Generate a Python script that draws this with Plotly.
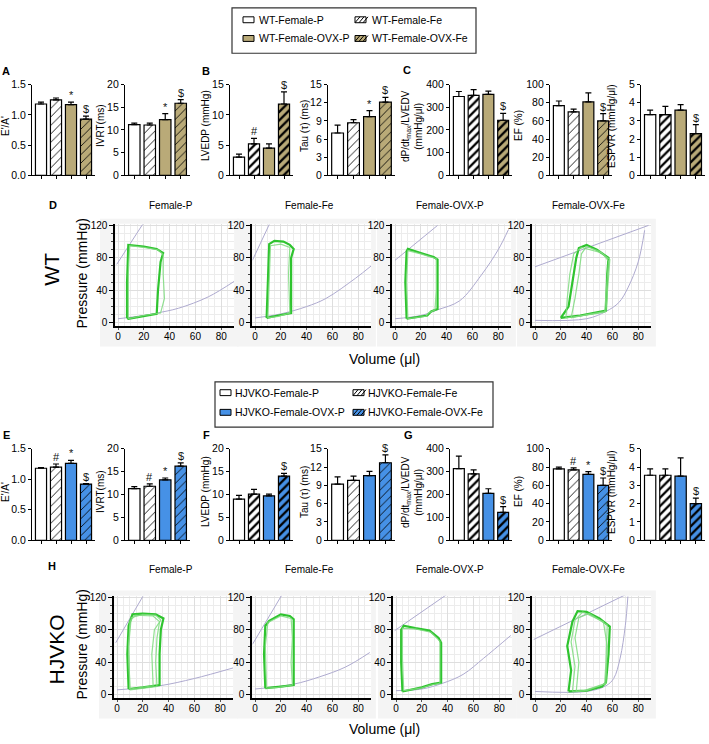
import plotly.graph_objects as go

W, H = 709, 744
FONT = "Arial, Liberation Sans, Helvetica, sans-serif"

# ---------------- DATA ----------------
wt_groups = ["WT-Female-P", "WT-Female-Fe", "WT-Female-OVX-P", "WT-Female-OVX-Fe"]
ko_groups = ["HJVKO-Female-P", "HJVKO-Female-Fe", "HJVKO-Female-OVX-P", "HJVKO-Female-OVX-Fe"]

metric_titles = ["E'/A'", "IVRT(ms)", "LVEDP (mmHg)", "Tau (τ) (ms)",
                 "dP/dt<sub>max</sub>/LVEDV<br>(mmHg/μl)", "EF (%)", "ESPVR (mmHg/μl)"]
wt_ymax = [1.5, 20, 15, 15, 400, 100, 5]
ko_ymax = [1.5, 20, 20, 15, 400, 100, 5]
ytick_step = [0.5, 5, 5, 3, 100, 20, 1]

wt_ea = [1.18, 1.25, 1.17, 0.93];   wt_ea_err = [0.03, 0.03, 0.04, 0.05];  wt_ea_sig = ["", "", "*", "$"]
wt_ivrt = [11.2, 11.1, 12.3, 15.9]; wt_ivrt_err = [0.3, 0.4, 1.3, 0.8];    wt_ivrt_sig = ["", "", "*", "$"]
wt_lvedp = [3.0, 5.2, 4.5, 11.8];   wt_lvedp_err = [0.5, 0.9, 0.7, 2.0];   wt_lvedp_sig = ["", "#", "", "$"]
wt_tau = [7.0, 8.7, 9.7, 12.1];     wt_tau_err = [1.3, 0.5, 1.0, 0.8];     wt_tau_sig = ["", "", "*", "$"]
wt_dpdt = [348, 353, 357, 243];     wt_dpdt_err = [22, 25, 15, 30];        wt_dpdt_sig = ["", "", "", "$"]
wt_ef = [77, 70, 81, 60];           wt_ef_err = [5, 3, 10, 8];             wt_ef_sig = ["", "", "", "$"]
wt_espvr = [3.35, 3.35, 3.6, 2.3];  wt_espvr_err = [0.25, 0.45, 0.3, 0.5]; wt_espvr_sig = ["", "", "", "$"]

ko_ea = [1.18, 1.20, 1.26, 0.92];   ko_ea_err = [0.01, 0.05, 0.05, 0.01];  ko_ea_sig = ["", "#", "*", "$"]
ko_ivrt = [11.3, 11.8, 13.2, 16.2]; ko_ivrt_err = [0.4, 0.5, 0.4, 0.7];    ko_ivrt_sig = ["", "#", "*", "$"]
ko_lvedp = [9.0, 10.1, 9.7, 14.0];  ko_lvedp_err = [0.8, 1.0, 0.4, 0.6];   ko_lvedp_sig = ["", "", "", "$"]
ko_tau = [9.2, 9.8, 10.6, 12.7];    ko_tau_err = [1.2, 0.7, 0.7, 1.3];     ko_tau_sig = ["", "", "", "$"]
ko_dpdt = [313, 290, 205, 122];     ko_dpdt_err = [55, 18, 20, 25];        ko_dpdt_sig = ["", "", "", "$"]
ko_ef = [78, 77, 72, 60];           ko_ef_err = [2, 2, 3, 8];              ko_ef_sig = ["", "#", "*", "$"]
ko_espvr = [3.55, 3.55, 3.5, 2.0];  ko_espvr_err = [0.35, 0.35, 1.0, 0.3]; ko_espvr_sig = ["", "", "", "$"]

heavy_hatch = [False, False, True, False, True, False, True]

pv_titles = ["Female-P", "Female-Fe", "Female-OVX-P", "Female-OVX-Fe"]

# PV loops: (volume μl, pressure mmHg)
wt_p_loop = [(7, 6), (7, 50), (8, 96), (20, 94), (30, 91), (35, 86), (33, 75), (31, 40), (30, 11), (20, 8), (8, 5), (7, 6)]
wt_p_loop2 = [(8, 5), (8, 60), (9, 95), (20, 93), (31, 90), (35, 84), (35, 60), (36, 30), (33, 12), (20, 9), (8, 5)]
wt_p_espvr = [(-1, 72), (19, 121)]
wt_p_edpvr = [(0, 5), (20, 9), (30, 12), (47, 18), (70, 32), (90, 51)]

wt_fe_loop = [(9, 6), (10, 60), (11, 97), (15, 101), (22, 100), (27, 96), (30, 91), (28, 80), (28, 40), (28, 12), (18, 9), (9, 6)]
wt_fe_loop2 = [(10, 6), (11, 50), (12, 95), (20, 97), (27, 93), (26, 60), (27, 12), (18, 8), (10, 6)]
wt_fe_espvr = [(-2, 77), (11, 121)]
wt_fe_edpvr = [(0, 6), (20, 11), (40, 20), (55, 30), (78, 55), (90, 70)]

wt_ovxp_loop = [(9, 5), (8, 50), (9, 88), (10, 91), (20, 86), (30, 81), (33, 78), (33, 40), (33, 17), (28, 14), (25, 9), (9, 5)]
wt_ovxp_loop2 = [(10, 5), (9, 50), (10, 89), (20, 85), (32, 79), (32, 40), (31, 16), (26, 12), (24, 8), (10, 5)]
wt_ovxp_espvr = [(0, 77), (33, 120)]
wt_ovxp_edpvr = [(0, 5), (20, 9), (33, 16), (50, 27), (67, 59), (80, 90), (88, 115)]

wt_ovxfe_loop = [(20, 6), (26, 20), (29, 50), (32, 80), (34, 92), (40, 96), (48, 90), (57, 80), (56, 60), (55, 30), (55, 15), (45, 12), (35, 9), (20, 6)]
wt_ovxfe_loop2 = [(28, 6), (31, 30), (34, 60), (36, 85), (40, 94), (50, 88), (58, 78), (56, 40), (55, 14), (40, 10), (28, 6)]
wt_ovxfe_loop3 = [(24, 6), (25, 30), (27, 60), (30, 85), (36, 93), (52, 86), (57, 76), (55, 40), (54, 13), (38, 9), (24, 6)]
wt_ovxfe_espvr = [(0, 69), (88, 120)]
wt_ovxfe_edpvr = [(0, 3), (40, 5), (55, 14), (65, 25), (72, 43), (80, 75), (85, 114)]

ko_p_loop = [(9, 7), (8, 50), (9, 85), (12, 99), (20, 100), (30, 99), (36, 94), (34, 80), (33, 50), (33, 12), (20, 9), (9, 7)]
ko_p_loop2 = [(10, 7), (9, 60), (11, 95), (20, 99), (30, 98), (34, 92), (29, 80), (27, 50), (28, 11), (18, 9), (10, 7)]
ko_p_loop3 = [(10, 6), (9, 55), (10, 90), (14, 98), (28, 97), (33, 90), (31, 70), (30, 40), (31, 10), (20, 8), (10, 6)]
ko_p_espvr = [(-1, 64), (20, 121)]
ko_p_edpvr = [(0, 6), (33, 11), (60, 20), (90, 33)]

ko_fe_loop = [(8, 8), (7, 50), (8, 85), (11, 91), (20, 99), (27, 97), (30, 93), (30, 60), (30, 12), (20, 10), (8, 8)]
ko_fe_loop2 = [(9, 8), (8, 60), (10, 89), (20, 97), (28, 94), (29, 70), (28, 40), (29, 12), (18, 9), (9, 8)]
ko_fe_espvr = [(-2, 62), (20.5, 122)]
ko_fe_edpvr = [(0, 7), (30, 13), (50, 22), (70, 34), (89, 52)]

ko_ovxp_loop = [(5, 4), (4, 40), (4, 80), (6, 85), (15, 82), (26, 79), (33, 70), (35, 64), (35, 40), (35, 15), (28, 13), (20, 9), (5, 4)]
ko_ovxp_loop2 = [(6, 5), (5, 45), (5, 82), (15, 81), (27, 77), (34, 66), (34, 38), (34, 14), (27, 12), (19, 8), (6, 5)]
ko_ovxp_espvr = [(-1, 79), (39, 123)]
ko_ovxp_edpvr = [(0, 5), (20, 7), (36, 14), (52, 25), (68, 45), (89, 73)]

ko_ovxfe_loop = [(26, 4), (28, 30), (25, 60), (29, 90), (33, 103), (40, 102), (50, 94), (58, 84), (57, 50), (55, 15), (52, 10), (40, 5), (26, 4)]
ko_ovxfe_loop2 = [(32, 4), (34, 40), (31, 70), (34, 95), (42, 100), (56, 86), (55, 40), (54, 13), (40, 5), (32, 4)]
ko_ovxfe_loop3 = [(29, 4), (31, 35), (28, 65), (31, 92), (37, 102), (53, 90), (56, 60), (55, 14), (38, 5), (29, 4)]
ko_ovxfe_espvr = [(-1, 68), (70, 123)]
ko_ovxfe_edpvr = [(0, 4), (40, 4), (55, 11), (61, 20), (66, 45), (70, 85), (72, 121)]

wt_bar_data = [(wt_ea, wt_ea_err, wt_ea_sig), (wt_ivrt, wt_ivrt_err, wt_ivrt_sig),
               (wt_lvedp, wt_lvedp_err, wt_lvedp_sig), (wt_tau, wt_tau_err, wt_tau_sig),
               (wt_dpdt, wt_dpdt_err, wt_dpdt_sig), (wt_ef, wt_ef_err, wt_ef_sig),
               (wt_espvr, wt_espvr_err, wt_espvr_sig)]
ko_bar_data = [(ko_ea, ko_ea_err, ko_ea_sig), (ko_ivrt, ko_ivrt_err, ko_ivrt_sig),
               (ko_lvedp, ko_lvedp_err, ko_lvedp_sig), (ko_tau, ko_tau_err, ko_tau_sig),
               (ko_dpdt, ko_dpdt_err, ko_dpdt_sig), (ko_ef, ko_ef_err, ko_ef_sig),
               (ko_espvr, ko_espvr_err, ko_espvr_sig)]
wt_pv = [([wt_p_loop, wt_p_loop2], wt_p_espvr, wt_p_edpvr),
         ([wt_fe_loop, wt_fe_loop2], wt_fe_espvr, wt_fe_edpvr),
         ([wt_ovxp_loop, wt_ovxp_loop2], wt_ovxp_espvr, wt_ovxp_edpvr),
         ([wt_ovxfe_loop, wt_ovxfe_loop2, wt_ovxfe_loop3], wt_ovxfe_espvr, wt_ovxfe_edpvr)]
ko_pv = [([ko_p_loop, ko_p_loop2, ko_p_loop3], ko_p_espvr, ko_p_edpvr),
         ([ko_fe_loop, ko_fe_loop2], ko_fe_espvr, ko_fe_edpvr),
         ([ko_ovxp_loop, ko_ovxp_loop2], ko_ovxp_espvr, ko_ovxp_edpvr),
         ([ko_ovxfe_loop, ko_ovxfe_loop2, ko_ovxfe_loop3], ko_ovxfe_espvr, ko_ovxfe_edpvr)]

OLIVE = "#b9aa78"
BLUE = "#4691e6"

# ---------------- LAYOUT HELPERS ----------------
def px(xp):
    return xp / W

def py(yp):
    return 1 - yp / H

fig = go.Figure()
axes = {}
shapes = []
annotations = []
counter = [0]

def text(x, y, t, size=10, bold=False, angle=0, xanchor="center"):
    annotations.append(dict(x=px(x), y=py(y), xref="paper", yref="paper", text=("<b>%s</b>" % t) if bold else t,
                            showarrow=False, textangle=angle, xanchor=xanchor, yanchor="middle",
                            font=dict(family=FONT, size=size, color="black")))

def new_axes(xdom, ydom, xo, yo):
    counter[0] += 1
    n = counter[0]
    s = "" if n == 1 else str(n)
    axes["xaxis" + s] = dict(domain=xdom, anchor="y" + s, **xo)
    axes["yaxis" + s] = dict(domain=ydom, anchor="x" + s, **yo)
    return "x" + s, "y" + s, s

bar_cols = [(32, 95), (125, 190), (230, 293), (328, 395), (450, 512), (550, 612), (641, 705)]
ytitle_x = [5, 100, 205, 304, 412, 518, 611]

def bar_panel(col, vals, errs, sigs, ymax, step, title, heavy, fill, ytop, ybot, ytitle_y):
    x0, x1 = bar_cols[col]
    fmt = ".1f" if step < 1 else "d"
    xa, ya, s = new_axes(
        [px(x0), px(x1)], [py(ybot), py(ytop)],
        dict(range=[-0.6, 3.6], showline=True, linecolor="black", linewidth=1.2,
             tickvals=[0, 1, 2, 3], ticks="outside", ticklen=3, tickcolor="black",
             showticklabels=False, showgrid=False, zeroline=False),
        dict(range=[0, ymax], dtick=step, tick0=0, tickformat=fmt, showline=True,
             linecolor="black", linewidth=1.2, ticks="outside", ticklen=3, tickcolor="black",
             showgrid=False, zeroline=False, tickfont=dict(size=10.5, color="black")))
    text(ytitle_x[col], ytitle_y, title, size=10, angle=-90)
    for i in range(4):
        bg = "white" if i < 2 else fill
        marker = dict(color=bg, line=dict(color="black", width=1.2))
        if i in (1, 3):
            marker["pattern"] = dict(shape="/", fgcolor="black", bgcolor=bg, size=6,
                                     solidity=0.38 if heavy else 0.14, fillmode="replace")
        fig.add_trace(go.Bar(x=[i], y=[vals[i]], width=0.74, marker=marker,
                             error_y=dict(type="data", array=[errs[i]], arrayminus=[0],
                                          symmetric=False, color="black", thickness=1.2, width=3),
                             xaxis=xa, yaxis=ya, showlegend=False, hoverinfo="skip"))
        if sigs[i]:
            annotations.append(dict(x=i, y=vals[i] + errs[i], xref=xa, yref=ya,
                                    text=sigs[i].replace("$", "&#36;"),
                                    showarrow=False, xanchor="center", yanchor="bottom", yshift=-1,
                                    font=dict(family=FONT, size=11, color="#111111")))

KX = 1.29
KY = 0.825

def pv_panel(idx, zero_x, zero_y, loops, espvr, edpvr):
    left = zero_x - 2 * KX
    right = left + 92 * KX
    top = zero_y - 122 * KY
    bot = zero_y + 4 * KY
    xa, ya, s = new_axes(
        [px(left), px(right)], [py(bot), py(top)],
        dict(range=[-2, 90], tickmode="linear", tick0=0, dtick=20, showline=True,
             linecolor="black", linewidth=2, ticks="outside", ticklen=2, tickcolor="#555",
             ticklabelstandoff=-2,
             showgrid=True, gridcolor="#dedede", gridwidth=0.7, zeroline=False,
             tickfont=dict(size=10, color="black"),
             minor=dict(dtick=5, showgrid=True, gridcolor="#ececec", gridwidth=0.5)),
        dict(range=[-4, 122], tickmode="linear", tick0=0, dtick=40, showline=True,
             linecolor="black", linewidth=2, ticks="outside", ticklen=4, tickcolor="black",
             showgrid=True, gridcolor="#dedede", gridwidth=0.7, zeroline=False,
             tickfont=dict(size=10, color="black"),
             minor=dict(dtick=10, showgrid=True, gridcolor="#ececec", gridwidth=0.5,
                        ticks="outside", ticklen=2, tickcolor="#444")))
    shapes.append(dict(type="rect", xref=xa + " domain", yref=ya + " domain",
                       x0=-0.13, x1=1.04, y0=-0.2, y1=1.05, fillcolor="#f4f4f4",
                       line=dict(width=0), layer="below"))
    shapes.append(dict(type="rect", xref=xa + " domain", yref=ya + " domain",
                       x0=0, x1=1, y0=0, y1=1, fillcolor="white",
                       line=dict(width=0), layer="below"))
    for pts in (edpvr, espvr):
        fig.add_trace(go.Scatter(x=[p[0] for p in pts], y=[p[1] for p in pts], mode="lines",
                                 line=dict(color="#aeaacf", width=1, shape="spline"),
                                 xaxis=xa, yaxis=ya, showlegend=False, hoverinfo="skip"))
    for j, lp in enumerate(loops):
        fig.add_trace(go.Scatter(x=[p[0] for p in lp], y=[p[1] for p in lp], mode="lines",
                                 line=dict(color="#2fc42f" if j == 0 else "#7fdc7f",
                                           width=2.2 if j == 0 else 1.2),
                                 opacity=1 if j == 0 else 0.85,
                                 xaxis=xa, yaxis=ya, showlegend=False, hoverinfo="skip"))

# ---------------- BAR ROWS ----------------
for c in range(7):
    v, e, sg = wt_bar_data[c]
    bar_panel(c, v, e, sg, wt_ymax[c], ytick_step[c], metric_titles[c], heavy_hatch[c], OLIVE, 80, 172, 122)
for c in range(7):
    v, e, sg = ko_bar_data[c]
    bar_panel(c, v, e, sg, ko_ymax[c], ytick_step[c], metric_titles[c], heavy_hatch[c], BLUE, 450, 543, 494)

# ---------------- PV ROWS ----------------
wt_zero_x = [118, 255, 395, 535]
ko_zero_x = [117, 255, 396, 535]
for i in range(4):
    loops, es, ed = wt_pv[i]
    pv_panel(i, wt_zero_x[i], 322, loops, es, ed)
for i in range(4):
    loops, es, ed = ko_pv[i]
    pv_panel(i, ko_zero_x[i], 700, loops, es, ed)

# ---------------- TEXT ----------------
for lab, x, y in [("A", 6, 66), ("B", 206, 66), ("C", 407, 65), ("D", 53, 202),
                  ("E", 6, 436), ("F", 206, 436), ("G", 408, 436), ("H", 52, 569)]:
    text(x, y, lab, size=11, bold=True)

title_x = [171, 309, 450, 588]
for i, t in enumerate(pv_titles):
    text(title_x[i], 203, t, size=10)
    text(title_x[i], 573, t, size=10)

text(52, 268, "WT", size=21, angle=-90)
text(56, 654, "HJVKO", size=21, angle=-90)
text(82, 272, "Pressure (mmHg)", size=14, angle=-90)
text(82, 649, "Pressure (mmHg)", size=14, angle=-90)
text(384, 359, "Volume (μl)", size=14)
text(384, 735, "Volume (μl)", size=14)

# ---------------- LEGENDS (manual) ----------------
def legend_box(x0, y0, x1, y1, names, fill, icon_x, text_x, row_y):
    shapes.append(dict(type="rect", xref="paper", yref="paper", x0=px(x0), x1=px(x1),
                       y0=py(y1), y1=py(y0), line=dict(color="#333", width=1.2), fillcolor="white"))
    for k, name in enumerate(names):
        r, c = k // 2, k % 2
        ix, iy = icon_x[c], row_y[r]
        bg = "white" if r == 0 else fill
        shapes.append(dict(type="rect", xref="paper", yref="paper", x0=px(ix), x1=px(ix + 11),
                           y0=py(iy + 3), y1=py(iy - 3), fillcolor=bg,
                           line=dict(color="black", width=1)))
        if c == 1:
            path = ""
            for d in (0, 4, 8):
                path += "M%f,%f L%f,%f " % (px(ix + d), py(iy + 3), px(ix + d + 5), py(iy - 3))
            shapes.append(dict(type="path", xref="paper", yref="paper", path=path,
                               line=dict(color="black", width=1)))
        text(text_x[c], iy, name, size=10.5, xanchor="left")

legend_box(232, 2, 476, 48, wt_groups, OLIVE, [243, 355], [257, 370], [14, 33])
legend_box(215, 382, 493, 428, ko_groups, BLUE, [220, 353], [233, 366], [393, 413])

fig.update_layout(
    width=W, height=H, margin=dict(l=0, r=0, t=0, b=0),
    paper_bgcolor="white", plot_bgcolor="rgba(0,0,0,0)",
    font=dict(family=FONT, size=10, color="black"),
    barmode="overlay", showlegend=False,
    shapes=shapes, annotations=annotations, **axes)

fig.write_html("out.html", config={"displayModeBar": False},
               post_script="document.body.style.margin='0';document.body.style.padding='0';")
